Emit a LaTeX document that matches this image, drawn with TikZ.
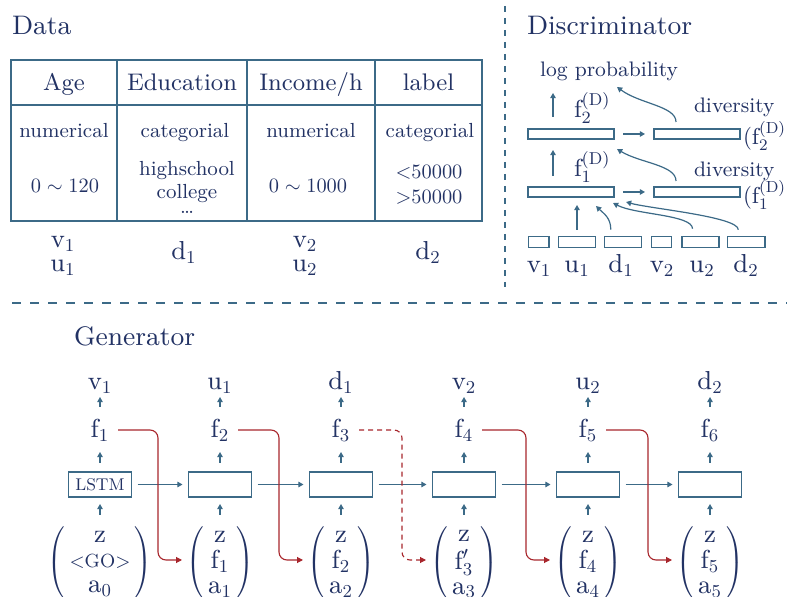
\RequirePackage{fix-cm}
\documentclass[tikz,border=0pt]{standalone}
\usepackage{fontspec}
\setmainfont{lmroman9-regular.otf}
\usetikzlibrary{arrows.meta,calc}
\definecolor{navy}{RGB}{34,50,100}
\definecolor{steel}{RGB}{60,106,135}
\definecolor{dred}{RGB}{168,38,44}
\begin{document}
\begin{tikzpicture}[x=0.5pt,y=-0.5pt,
  every node/.style={inner sep=0pt,outer sep=0pt,text=navy},
  title/.style={font=\fontsize{13.4}{16}\selectfont, anchor=base west},
  hdr/.style={font=\fontsize{12}{14}\selectfont, anchor=base},
  cell/.style={font=\fontsize{10.2}{12}\selectfont, anchor=base},
  lab/.style={font=\fontsize{13}{12.5}\selectfont, anchor=base},
  small/.style={font=\fontsize{10.5}{13}\selectfont, anchor=base west},
  dbox/.style={draw=steel, line width=0.65pt, minimum height=5pt},
  gbox/.style={draw=steel, line width=0.65pt, minimum width=31.5pt, minimum height=12.5pt, font=\fontsize{8.5}{10}\selectfont},
  arr/.style={draw=steel, line width=0.6pt, -{Triangle[length=2.6pt,width=2.8pt]}},
  rarr/.style={draw=dred, line width=0.55pt, rounded corners=4pt, -{Triangle[length=3pt,width=3pt]}},
  rdash/.style={dash pattern=on 2.5pt off 2pt}
]
\useasboundingbox (0,0) rectangle (787,597);

% titles
\node[title] (tdata) at (12,35) {Data};
\node[title] (tdisc) at (527,35) {Discriminator};
\node[title] (tgen) at (74,346) {Generator};

% separators
\draw[steel, line width=0.6pt, dash pattern=on 3pt off 3pt] (505,6) -- (505,287);
\draw[steel, line width=0.6pt, dash pattern=on 4.5pt off 4.5pt] (12,303) -- (787,303);

% table
\draw[steel, line width=1pt] (11,60) rectangle (482,221);
\draw[steel, line width=1.3pt] (11,105) -- (482,105);
\foreach \x in {117,247,375} \draw[steel,line width=0.6pt] (\x,60) -- (\x,221);
\node[hdr] (h1) at (64,91) {Age};
\node[hdr] (h2) at (182,91) {Education};
\node[hdr] (h3) at (311,91) {Income/h};
\node[hdr] (h4) at (428.5,91) {label};
\node[cell] (c11) at (64,138) {numerical};
\node[cell] (c12) at (185,138) {categorial};
\node[cell] (c13) at (311,138) {numerical};
\node[cell] (c14) at (430,138) {categorial};
\node[cell] (c21) at (65,193) {$0\sim120$};
\node[cell] (c22a) at (187,176) {highschool};
\node[cell] (c22b) at (187,199) {college};
\node[cell] (c22c) at (187,214) {\dots};
\node[cell] (c23) at (308,193) {$0\sim1000$};
\node[cell] (c24a) at (429,179) {$\mathord{<}50000$};
\node[cell] (c24b) at (429,204) {$\mathord{>}50000$};
\node[lab] (dv1) at (63,248) {$\mathrm{v_1}$};
\node[lab] (du1) at (63,272) {$\mathrm{u_1}$};
\node[lab] (dd1) at (184,260) {$\mathrm{d_1}$};
\node[lab] (dv2) at (305,248) {$\mathrm{v_2}$};
\node[lab] (du2) at (305,272) {$\mathrm{u_2}$};
\node[lab] (dd2) at (428,260) {$\mathrm{d_2}$};

% discriminator
\node[small] (logp) at (540,77) {log probability};
\node[small] (div2) at (694,113) {diversity};
\node[small] (div1) at (694,177) {diversity};
\node[dbox, minimum width=43pt] (A2) at (571,134) {};
\node[dbox, minimum width=43pt] (B2) at (697,134) {};
\node[dbox, minimum width=43pt] (A1) at (571,192) {};
\node[dbox, minimum width=43pt] (B1) at (697,192) {};
\node[lab, font=\fontsize{12.3}{14}\selectfont, anchor=base west] (fd2) at (574,118) {$\mathrm{f}_2^{(\mathrm{D})}$};
\node[lab, font=\fontsize{12.3}{14}\selectfont, anchor=base west] (fd1) at (574,177) {$\mathrm{f}_1^{(\mathrm{D})}$};
\node[lab, font=\fontsize{11.5}{14}\selectfont, anchor=base west] (pf2) at (743,145) {$(\mathrm{f}_2^{(\mathrm{D})})$};
\node[lab, font=\fontsize{11.5}{14}\selectfont, anchor=base west] (pf1) at (743,204) {$(\mathrm{f}_1^{(\mathrm{D})})$};
\node[dbox, minimum width=10.3pt, minimum height=5.3pt] (bv1) at (538.7,242) {};
\node[dbox, minimum width=18.7pt, minimum height=5.3pt] (bu1) at (577,242) {};
\node[dbox, minimum width=18.5pt, minimum height=5.3pt] (bd1) at (622.8,242) {};
\node[dbox, minimum width=10pt, minimum height=5.3pt] (bv2) at (661.7,242) {};
\node[dbox, minimum width=18.5pt, minimum height=5.3pt] (bu2) at (700.5,242) {};
\node[dbox, minimum width=18.7pt, minimum height=5.3pt] (bd2) at (746.3,242) {};
\node[lab] (lv1) at (539,273) {$\mathrm{v_1}$};
\node[lab] (lu1) at (577,273) {$\mathrm{u_1}$};
\node[lab] (ld1) at (621,273) {$\mathrm{d_1}$};
\node[lab] (lv2) at (662,273) {$\mathrm{v_2}$};
\node[lab] (lu2) at (702,273) {$\mathrm{u_2}$};
\node[lab] (ld2) at (746,273) {$\mathrm{d_2}$};

\draw[arr] ($(A2.north west)+(25,-12)$) -- ($(A2.north west)+(25,-36)$);
\draw[arr] ($(A1.north west)+(25,-11)$) -- ($(A1.north west)+(25,-37)$);
\draw[arr] ($(A2.east)+(9,0)$) -- ($(B2.west)+(-9,0)$);
\draw[arr] ($(A1.east)+(9,0)$) -- ($(B1.west)+(-9,0)$);
\draw[arr] ($(B2.north)+(-21,-7)$) .. controls ($(B2.north)+(-21,-23)$) and ($(B2.north)+(-57,-25)$) .. ($(A2.north east)+(3,-42)$);
\draw[arr] ($(B1.north)+(-21,-6)$) .. controls ($(B1.north)+(-21,-22)$) and ($(B1.north)+(-57,-24)$) .. ($(A2.south east)+(3,10)$);
\draw[arr] ($(bu1.north)+(0,-7)$) -- ($(A1.south)+(6,8)$);
\draw[arr] ($(bd1.north)+(-12,-7)$) .. controls ($(bd1.north)+(-12,-19)$) and ($(bd1.north)+(-19,-23)$) .. ($(A1.south)+(25,9)$);
\draw[arr] ($(bu2.north)+(-8,-8)$) .. controls ($(bu2.north)+(-8,-22)$) and ($(bu2.north)+(-65,-22)$) .. ($(A1.south east)+(-1,6)$);
\draw[arr] ($(bd2.north)+(-8,-7)$) .. controls ($(bd2.north)+(-8,-20)$) and ($(bd2.north)+(-96,-28)$) .. ($(A1.south east)+(12,5)$);

% generator
\foreach \i/\x/\o/\f/\t in {1/100/v_1/f_1/LSTM, 2/220/u_1/f_2/{}, 3/341/d_1/f_3/{}, 4/464/v_2/f_4/{}, 5/588/u_2/f_5/{}, 6/710/d_2/f_6/{}} {
  \node[lab] (o\i) at (\x,390) {$\mathrm{\o}$};
  \node[lab] (f\i) at (\x,438) {$\mathrm{\f}$};
  \node[gbox] (g\i) at (\x,484.5) {\t};
  \draw[arr] ($(g\i.north)+(0,-9)$) -- ($(g\i.north)+(0,-20)$);
  \draw[arr] ($(g\i.north)+(0,-65)$) -- ($(g\i.north)+(0,-75)$);
  \draw[arr] ($(g\i.south)+(0,18)$) -- ($(g\i.south)+(0,7)$);
}
\foreach \i/\j in {1/2,2/3,3/4,4/5,5/6}
  \draw[arr] ($(g\i.east)+(6,0)$) -- ($(g\j.west)+(-6,0)$);

\node[lab, anchor=center] (in1) at (100,563) {$\left(\begin{array}{@{\,}c@{\,}}\mathrm{z}\\ \hbox{\fontsize{9.5}{11}\selectfont <GO>}\\ \mathrm{a_0}\end{array}\right)$};
\foreach \i/\x/\m/\a in {2/220/f_1/a_1, 3/341/f_2/a_2, 4/464/f'_3/a_3, 5/588/f_4/a_4, 6/710/f_5/a_5}
  \node[lab, anchor=center] (in\i) at (\x,563) {$\left(\begin{array}{@{\,}c@{\,}}\mathrm{z}\\ \mathrm{\m}\\ \mathrm{\a}\end{array}\right)$};

\foreach \i/\j/\x/\y/\s in {1/2/100/220/solid, 2/3/220/341/solid, 3/4/341/464/rdash, 4/5/464/588/solid, 5/6/588/710/solid} {
  \coordinate (rs\i) at (\x+18,430);
  \coordinate (re\i) at (\y-38,560);
  \draw[rarr,\s] (rs\i) -| ($(re\i)+(-24,0)$) -- (re\i);
}
\end{tikzpicture}
\end{document}
